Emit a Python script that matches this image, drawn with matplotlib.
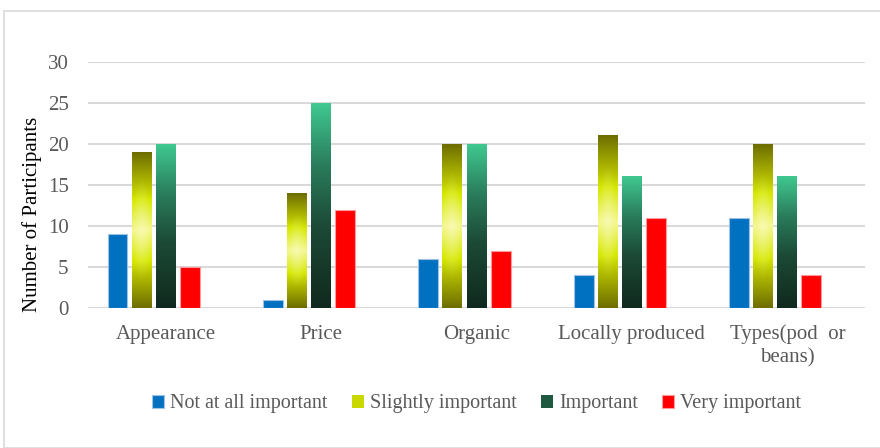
import matplotlib.pyplot as plt
import numpy as np
from matplotlib.colors import LinearSegmentedColormap
from matplotlib.patches import Rectangle

categories = ['Appearance', 'Price', 'Organic', 'Locally produced', 'Types(pod  or\nbeans)']
series = ['Not at all important', 'Slightly important', 'Important', 'Very important']
not_at_all = [9, 1, 6, 4, 11]
slightly = [19, 14, 20, 21, 20]
important = [20, 25, 20, 16, 16]
very = [5, 12, 7, 11, 4]

plt.rcParams['font.family'] = ['Liberation Serif', 'DejaVu Serif']
txt = '#595959'

fig = plt.figure(figsize=(8.8, 4.48), dpi=100)
ax = fig.add_axes([0.1, 0.3125, 0.883, 0.549])

fig.patches.append(Rectangle((4 / 880, 0), 1, 1 - 11 / 448, transform=fig.transFigure,
                             fill=False, edgecolor='#d9d9d9', linewidth=1.2))

x = np.arange(len(categories))
step = 0.155
w = 0.128

yellow = LinearSegmentedColormap.from_list('yel', [
    (0.0, '#6e6e00'), (0.22, '#b8c400'), (0.3, '#d6e800'),
    (0.5, '#f4f78a'), (0.7, '#d6e800'), (0.78, '#b8c400'), (1.0, '#6e6e00')])
green = LinearSegmentedColormap.from_list('grn', [
    (0.0, '#10291e'), (0.4, '#1c4a36'), (0.7, '#2a7d5c'), (1.0, '#40c890')])

def grad_img(cmap, radial):
    v = np.linspace(0, 1, 200)[:, None]
    u = np.linspace(-1, 1, 40)[None, :]
    img = cmap(np.repeat(v, 40, axis=1))
    if radial:
        glow = np.clip(1 - np.sqrt(u ** 2 + ((v - 0.5) * 3) ** 2), 0, 1) * 0.35
        img[..., :3] = img[..., :3] + (1 - img[..., :3]) * glow[..., None]
    return img

b0 = ax.bar(x - 2 * step, not_at_all, w, color='#0070c0', edgecolor='#9cc3e6',
            linewidth=0.8, zorder=3, label=series[0])
b1 = ax.bar(x - step, slightly, w, color='#d6e800', linewidth=0, zorder=3, label=series[1])
b2 = ax.bar(x, important, w, color='#2a7d5c', linewidth=0, zorder=3, label=series[2])
b3 = ax.bar(x + step, very, w, color='#ff0000', edgecolor='#ff9a9a',
            linewidth=0.8, zorder=3, label=series[3])

for bars, cmap, radial in [(b1, yellow, True), (b2, green, False)]:
    img = grad_img(cmap, radial)
    for r in bars:
        ax.imshow(img, extent=[r.get_x(), r.get_x() + r.get_width(), 0, r.get_height()],
                  origin='lower', aspect='auto', zorder=3.5, interpolation='bilinear')

ax.set_xlim(-0.5, len(categories) - 0.5)
ax.set_ylim(0, 30)
ax.set_yticks(range(0, 31, 5))
ax.set_xticks(x)
ax.set_xticklabels(categories, fontsize=15, color=txt, linespacing=1.25)
ax.tick_params(axis='y', labelsize=15, labelcolor=txt, length=0, pad=14)
ax.tick_params(axis='x', length=0, pad=12)
ax.grid(axis='y', color='#d9d9d9', linewidth=1.5, zorder=0)
ax.set_axisbelow(True)
for s in ax.spines.values():
    s.set_visible(False)
ax.set_ylabel('Number of Participants', fontsize=15, color='black')
ax.yaxis.set_label_coords(-0.059, 0.382)

leg = ax.legend(loc='center', bbox_to_anchor=(0.5, -0.39), ncol=4, frameon=False,
                fontsize=14.5, handlelength=0.6, handleheight=0.6, handletextpad=0.3,
                columnspacing=1.2, labelcolor=txt)
leg.legend_handles[1].set_facecolor('#c8d800')
leg.legend_handles[2].set_facecolor('#1f5a40')

fig.savefig('out.png', dpi=100)
